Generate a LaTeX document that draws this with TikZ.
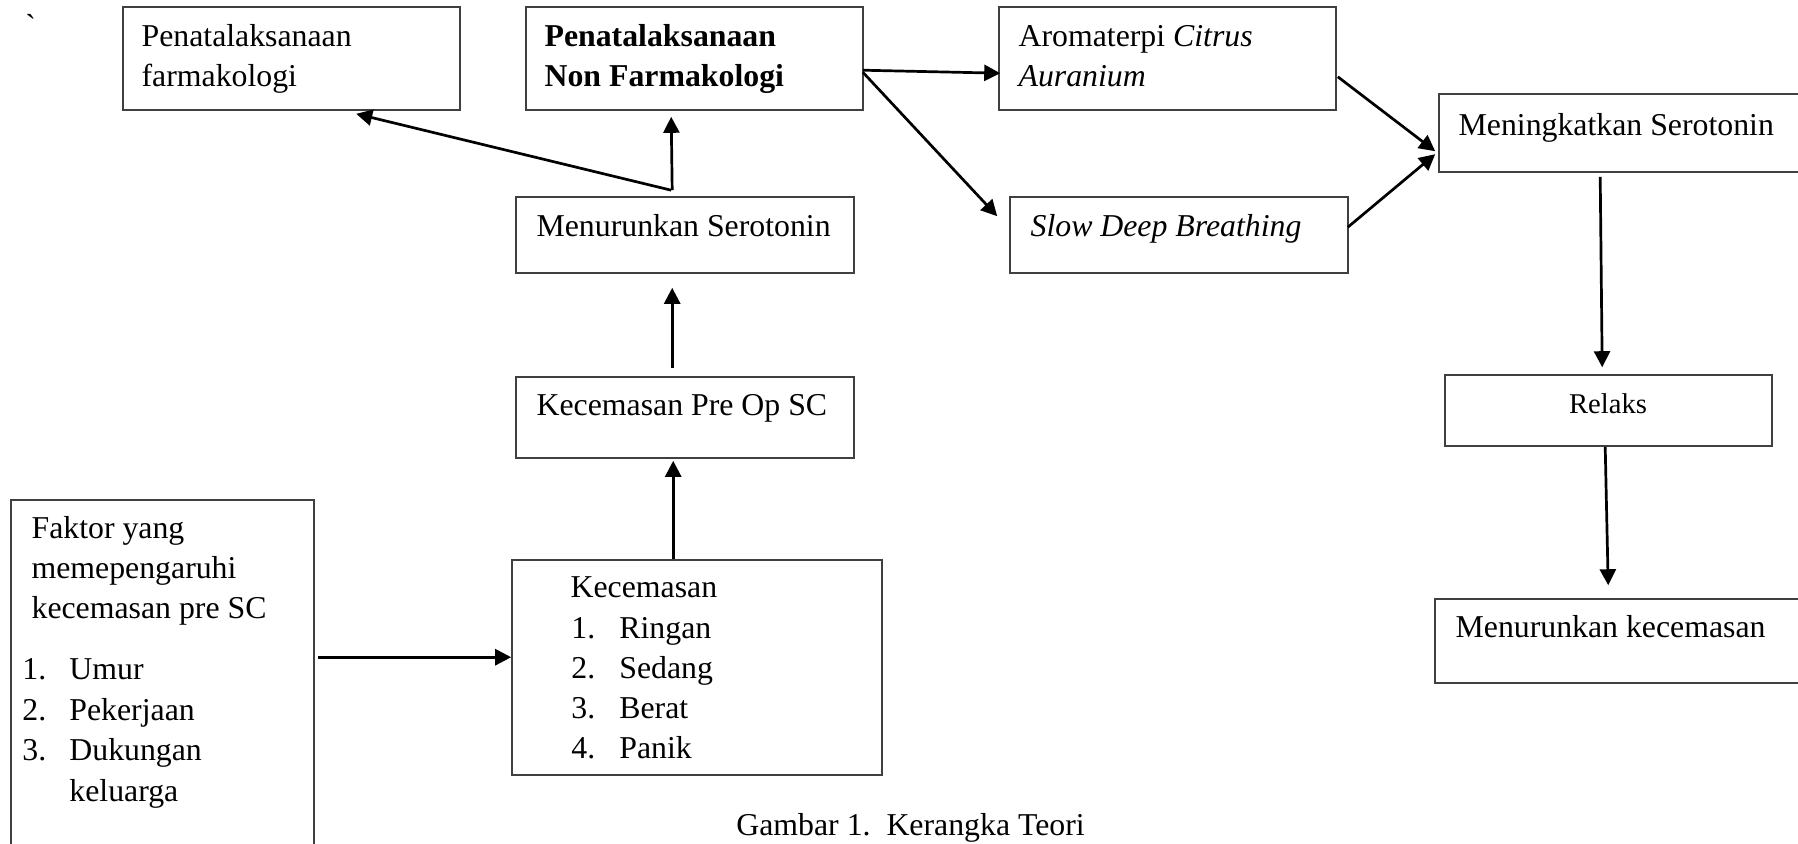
\documentclass[tikz,border=0pt]{standalone}
\usepackage{fontspec}
\setmainfont{Liberation Serif}
\newfontfamily\rawserif{Liberation Serif}
\usetikzlibrary{arrows.meta,calc,fit}
\begin{document}
\begin{tikzpicture}[x=0.5pt,y=-0.5pt,
  box/.style={draw=black!75,line width=0.8pt,inner sep=0pt},
  txt/.style={anchor=base west,inner sep=0pt,font=\fontsize{15.9pt}{20pt}\selectfont},
  small/.style={anchor=base,inner sep=0pt,font=\fontsize{14.3pt}{18pt}\selectfont},
  arr/.style={line width=1.35pt,-{Triangle[length=8pt,width=8pt]}}]
\useasboundingbox (0,0) rectangle (1798,843);

% boxes
\node[box,fit={(123,7)(460,110)}] (A) {};
\node[box,fit={(526,7)(863,110)}] (B) {};
\node[box,fit={(999,7)(1336,110)}] (C) {};
\node[box,fit={(1439,94)(1810,172)}] (D) {};
\node[box,fit={(516,197)(854,273)}] (E) {};
\node[box,fit={(1010,197)(1348,273)}] (F) {};
\node[box,fit={(516,377)(854,458)}] (G) {};
\node[box,fit={(1445,375)(1772,446)}] (H) {};
\node[box,fit={(11,500)(314,880)}] (I) {};
\node[box,fit={(512,560)(882,775)}] (J) {};
\node[box,fit={(1435,599)(1810,683)}] (K) {};

% texts
\node[txt] (tick) at (25,36) {\rawserif `};
\node[txt] (a1) at ($(A.north west)+(19,40)$) {Penatalaksanaan};
\node[txt] (a2) at ($(A.north west)+(19,80)$) {farmakologi};
\node[txt] (b1) at ($(B.north west)+(19,40)$) {\bfseries Penatalaksanaan};
\node[txt] (b2) at ($(B.north west)+(19,80)$) {\bfseries Non Farmakologi};
\node[txt] (c1) at ($(C.north west)+(20,40)$) {Aromaterpi \textit{Citrus}};
\node[txt] (c2) at ($(C.north west)+(20,80)$) {\textit{Auranium}};
\node[txt] (d1) at ($(D.north west)+(20,42)$) {Meningkatkan Serotonin};
\node[txt] (e1) at ($(E.north west)+(21,40)$) {Menurunkan Serotonin};
\node[txt] (f1) at ($(F.north west)+(21,40)$) {\itshape Slow Deep Breathing};
\node[txt] (g1) at ($(G.north west)+(21,39)$) {Kecemasan Pre Op SC};
\node[small] (h1) at (1608,413) {Relaks};
\node[txt] (i1) at ($(I.north west)+(21,39)$) {Faktor yang};
\node[txt] (i2) at ($(I.north west)+(21,79)$) {memepengaruhi};
\node[txt] (i3) at ($(I.north west)+(21,119)$) {kecemasan pre SC};
\node[txt] (in1) at (22,679) {1.};
\node[txt] (it1) at (69,679) {Umur};
\node[txt] (in2) at (22,720) {2.};
\node[txt] (it2) at (69,720) {Pekerjaan};
\node[txt] (in3) at (22,760) {3.};
\node[txt] (it3) at (69,760) {Dukungan};
\node[txt] (it4) at (69,801) {keluarga};
\node[txt] (j0) at ($(J.north west)+(59,38)$) {Kecemasan};
\node[txt] (jn1) at (571,638) {1.};
\node[txt] (jt1) at (619,638) {Ringan};
\node[txt] (jn2) at (571,678) {2.};
\node[txt] (jt2) at (619,678) {Sedang};
\node[txt] (jn3) at (571,718) {3.};
\node[txt] (jt3) at (619,718) {Berat};
\node[txt] (jn4) at (571,758) {4.};
\node[txt] (jt4) at (619,758) {Panik};
\node[txt] (k1) at ($(K.north west)+(21,39)$) {Menurunkan kecemasan};
\node[txt] (cap) at (736,835) {Gambar 1.\ \ Kerangka Teori};

% connectors
\draw[arr] ($(E.north west)+(156,-6)$) -- ($(A.south west)+(234,3)$);
\draw[arr] ($(E.north west)+(157,-6)$) -- ($(B.south west)+(146,6)$);
\draw[arr] ($(B.north east)+(-1,64)$) -- ($(C.north west)+(2,67)$);
\draw[arr] ($(B.north east)+(-1,66)$) -- ($(F.north west)+(-12,20)$);
\draw[arr] ($(C.south east)+(1,-34)$) -- ($(D.north west)+(-3,58)$);
\draw[arr] ($(F.north east)+(-1,31)$) -- ($(D.north west)+(-3,61)$);
\draw[arr] ($(D.south west)+(162,4)$) -- ($(H.north west)+(158,-7)$);
\draw[arr] ($(H.south west)+(161,0)$) -- ($(K.north west)+(174,-13)$);
\draw[arr] ($(G.north west)+(157,-8)$) -- ($(E.south west)+(157,14)$);
\draw[arr] ($(J.north west)+(162,0)$) -- ($(G.south west)+(158,2)$);
\draw[arr] ($(I.north east)+(3,158)$) -- ($(J.north west)+(0,98)$);
\end{tikzpicture}
\end{document}
